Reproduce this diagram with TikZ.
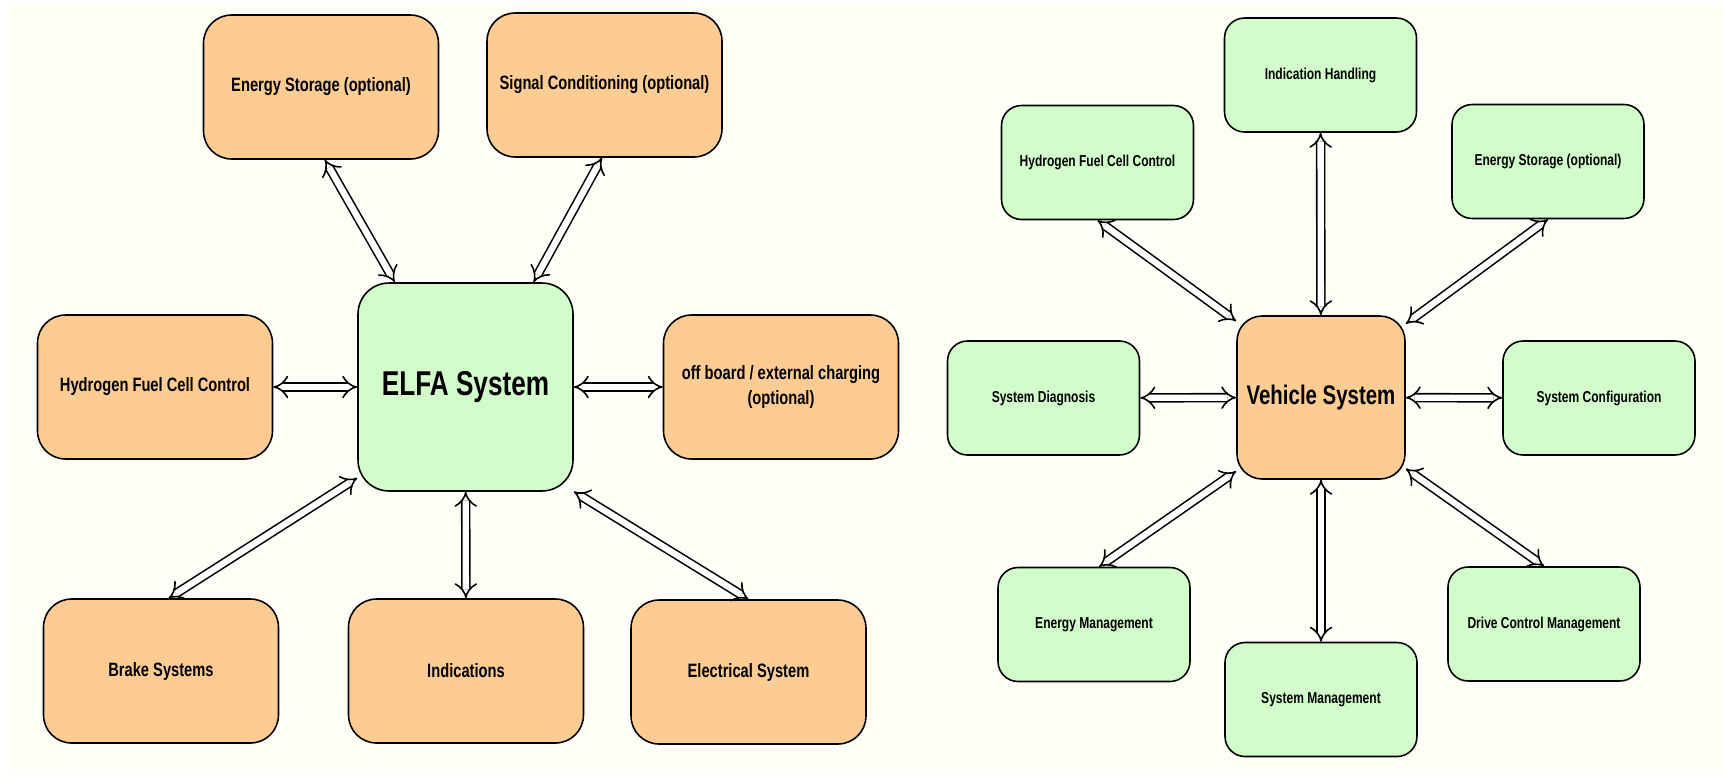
\documentclass[tikz,border=0pt]{standalone}
\usepackage{fontspec}
\setmainfont{Liberation Sans}[FakeStretch=0.76]
\usetikzlibrary{
  arrows.meta,
  positioning,
}
\definecolor{boxorange}{RGB}{253,204,146}
\definecolor{boxgreen}{RGB}{210,253,202}
\definecolor{paper}{RGB}{255,254,246}

\tikzset{
  block/.style={draw, line width=0.9pt, align=center},
  bigblock/.style={block, minimum width=4.7cm, minimum height=2.88cm,
    rounded corners=0.56cm, font=\bfseries\fontsize{11}{14}\selectfont},
  smallblock/.style={block, minimum width=3.84cm, minimum height=2.28cm,
    rounded corners=0.4cm, font=\bfseries\fontsize{9}{11}\selectfont},
  link/.style={double, double distance=3.6pt, line width=0.9pt, {Implies}-{Implies}},
}

\begin{document}
\begin{tikzpicture}[x=0.02cm, y=-0.02cm]
    \useasboundingbox (0,0) rectangle (1724,775);
    \fill [white] (0,0) rectangle (1724,775);
    \fill [paper] (8,5) rectangle (1724,775);
    % ELFA system
    \node [block, fill=boxgreen, minimum width=4.3cm, minimum height=4.16cm,
      rounded corners=0.62cm, font=\bfseries\fontsize{19.6}{22}\selectfont]
      (elfa) at (465.5,387) {ELFA System};
    \node [bigblock, fill=boxorange] (lES) at (321,87) {Energy Storage (optional)};
    \node [bigblock, fill=boxorange] (lSC) at (604.5,85) {Signal Conditioning (optional)};
    \node [bigblock, fill=boxorange] (lHFC) at (155,387) {Hydrogen Fuel Cell Control};
    \node [bigblock, fill=boxorange] (offb) at (781,387) {off board / external charging\\(optional)};
    \node [bigblock, fill=boxorange] (brake) at (161,671) {Brake Systems};
    \node [bigblock, fill=boxorange] (ind) at (466,671) {Indications};
    \node [bigblock, fill=boxorange] (elec) at (748.5,672) {Electrical System};
    \draw [link] (lES.-87) to (elfa.124);
    \draw [link] (lSC.-92) to (elfa.57);
    \draw [link] (lHFC) to (elfa);
    \draw [link] (elfa) to (offb);
    \draw [link] (brake.84) to (elfa.220);
    \draw [link] (elfa) to (ind);
    \draw [link] (elec.north) to (elfa.-44);
    % vehicle system
    \node [block, fill=boxorange, minimum width=3.36cm, minimum height=3.26cm,
      rounded corners=0.5cm, font=\bfseries\fontsize{15.3}{18}\selectfont]
      (veh) at (1321,397.5) {Vehicle System};
    \node [smallblock, fill=boxgreen] (indh) at (1320.5,75) {Indication Handling};
    \node [smallblock, fill=boxgreen] (rHFC) at (1097.5,162.5) {Hydrogen Fuel Cell Control};
    \node [smallblock, fill=boxgreen] (rES) at (1548,161.5) {Energy Storage (optional)};
    \node [smallblock, fill=boxgreen] (sdiag) at (1043.5,398) {System Diagnosis};
    \node [smallblock, fill=boxgreen] (sconf) at (1599,398) {System Configuration};
    \node [smallblock, fill=boxgreen] (emgmt) at (1094,624.5) {Energy Management};
    \node [smallblock, fill=boxgreen] (smgmt) at (1321,699.5) {System Management};
    \node [smallblock, fill=boxgreen] (drive) at (1544,624) {Drive Control Management};
    \draw [link] (indh) to (veh);
    \draw [link] (rHFC.south) to (veh.138);
    \draw [link] (rES.south) to (veh.41);
    \draw [link] (sdiag) to (veh);
    \draw [link] (veh) to (sconf);
    \draw [link] (emgmt.85) to (veh.221);
    \draw [link] (veh) to (smgmt);
    \draw [link] (drive.north) to (veh.-40);
  \end{tikzpicture}
\end{document}
